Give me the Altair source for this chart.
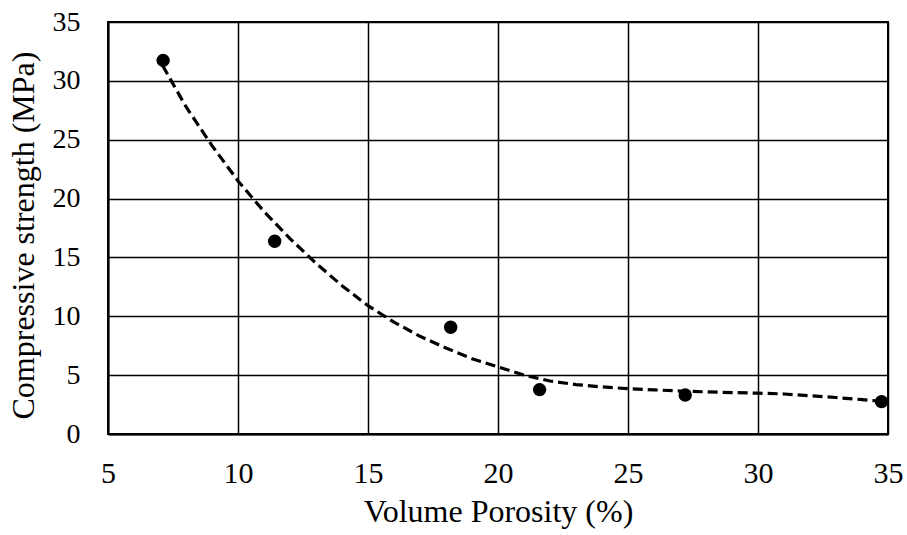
import altair as alt
import pandas as pd

porosity = [7.12, 11.41, 18.18, 21.6, 27.2, 34.75]
strength = [31.74, 16.38, 9.07, 3.77, 3.32, 2.75]

trend_x = [7.1, 8, 9, 10, 11, 12, 13, 14, 15, 16, 17, 18, 19, 20, 21, 22, 23, 24,
           25, 26, 27, 28, 29, 30, 31, 32, 33, 34, 34.9]
trend_y = [31.3, 27.8, 24.5, 21.5, 18.9, 16.6, 14.5, 12.6, 10.9, 9.5, 8.3, 7.3, 6.4,
           5.7, 5.0, 4.5, 4.2, 4.0, 3.85, 3.75, 3.65, 3.58, 3.52, 3.47, 3.4, 3.25,
           3.1, 2.92, 2.75]

x_ticks = [5, 10, 15, 20, 25, 30, 35]
y_ticks = [0, 5, 10, 15, 20, 25, 30, 35]

pts = pd.DataFrame({"x": porosity, "y": strength})
trend = pd.DataFrame({"x": trend_x, "y": trend_y})

FONT = "Liberation Serif"

xs = alt.Scale(domain=[5, 35], nice=False, zero=False)
ys = alt.Scale(domain=[0, 35], nice=False, zero=False)

xaxis = alt.Axis(values=x_ticks, title="Volume Porosity (%)", grid=True,
                 ticks=False, labelPadding=24, titlePadding=8,
                 labelFontSize=30, labelFlush=False)
yaxis = alt.Axis(values=y_ticks, title="Compressive strength (MPa)", grid=True,
                 ticks=False, labelPadding=28, titlePadding=12, titleY=213,
                 labelFontSize=28, labelFlush=False)

line = alt.Chart(trend).mark_line(color="black", strokeWidth=3.2, strokeDash=[10, 5]).encode(
    x=alt.X("x:Q", scale=xs, axis=xaxis),
    y=alt.Y("y:Q", scale=ys, axis=yaxis),
)

dots = alt.Chart(pts).mark_circle(color="black", opacity=1, size=180).encode(
    x=alt.X("x:Q", scale=xs),
    y=alt.Y("y:Q", scale=ys),
)

chart = alt.layer(line, dots).properties(
    width=780, height=412,
    autosize=alt.AutoSizeParams(type="none"),
    padding={"left": 108, "top": 22, "right": 19, "bottom": 101},
    background="white",
).configure_view(
    stroke="black", strokeWidth=2
).configure_axis(
    gridColor="black", gridOpacity=1, gridWidth=1.5,
    domainColor="black", domainWidth=2,
    labelFont=FONT, labelColor="black",
    titleFont=FONT, titleFontSize=32, titleColor="black", titleFontWeight="normal",
)

chart.save("out.html", embed_options={"renderer": "svg", "actions": False})
